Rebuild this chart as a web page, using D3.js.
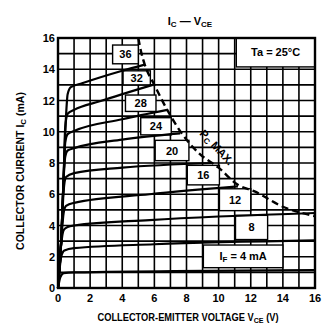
<!DOCTYPE html>
<html><head><meta charset="utf-8">
<script src="https://cdn.jsdelivr.net/npm/d3@7"></script>
<style>
html,body{margin:0;padding:0;background:#fff;}
text{font-family:"Liberation Sans Narrow","Arial Narrow","Liberation Sans",sans-serif;font-weight:bold;fill:#000;}
</style></head>
<body>
<svg id="c" width="327" height="328"></svg>
<script>
// ---- data ----
const xTicks = [0,2,4,6,8,10,12,14,16];
const yTicks = [0,2,4,6,8,10,12,14,16];
const curveIF = [36,32,28,24,20,16,12,8,4];
const curve36 = [[0,0],[0.2,3],[0.38,8],[0.5,11],[0.6,12.4],[0.8,12.85],[1.5,13.1],[4,13.9],[5.4,14.3]];
const curve32 = [[0,0],[0.2,3],[0.35,7],[0.45,10.3],[0.6,11.15],[1,11.4],[2.6,11.95],[5.9,13.0]];
const curve28 = [[0,0],[0.2,3],[0.35,7],[0.45,9.3],[0.6,9.85],[1,10.05],[4,10.8],[6.8,11.4]];
const curve24 = [[0,0],[0.2,3],[0.35,7],[0.45,8.4],[0.6,8.8],[1,8.95],[4,9.5],[7.6,9.9]];
const curve20 = [[0,0],[0.2,3],[0.35,6.2],[0.5,7.1],[1,7.35],[4,7.7],[9.6,8.0]];
const curve16 = [[0,0],[0.2,3],[0.35,4.8],[0.5,5.25],[1,5.45],[5.7,6.0],[11.2,6.5]];
const curve12 = [[0,0],[0.2,2.8],[0.35,3.7],[0.6,3.9],[1,4.0],[5.7,4.35],[16,4.8]];
const curve8  = [[0,0],[0.2,2.0],[0.4,2.4],[1,2.55],[6,2.8],[16,3.05]];
const curve4  = [[0,0],[0.15,0.7],[0.35,0.95],[1,1.0],[16,1.15]];
const pcMax = [[5.0,16],[5.2,15.0],[5.4,14.3],[6.0,13.0],[6.8,11.4],[7.7,9.9],[8.8,8.6],[10,7.7],[11.2,6.6],[12.2,6.2],[14,5.2],[16,4.6]];
const boxLabels = ["36","32","28","24","20","16","12","8","IF"];
const boxX0 = [3.4,4.05,4.2,5.15,6.05,8.05,10.05,11.05,9.05];
const boxX1 = [5.0,5.75,6.1,7.05,8.15,10.05,12.0,13.05,14.0];
const boxY0 = [14.35,13.0,11.3,9.8,8.15,6.6,4.95,3.1,1.3];
const boxY1 = [15.55,13.9,12.35,10.9,9.45,7.85,6.35,4.65,2.75];
const curves = [curve36,curve32,curve28,curve24,curve20,curve16,curve12,curve8,curve4];

// ---- layout ----
const svg = d3.select("#c");
const L=58,R=315,T=38,B=288;
const x = d3.scaleLinear().domain([0,16]).range([L,R]);
const y = d3.scaleLinear().domain([0,16]).range([B,T]);

const grid = d3.range(0,17);
svg.append("g").selectAll("line").data(grid).join("line")
  .attr("x1",d=>x(d)).attr("x2",d=>x(d)).attr("y1",T).attr("y2",B)
  .attr("stroke","#000").attr("stroke-width",1.6);
svg.append("g").selectAll("line").data(grid).join("line")
  .attr("y1",d=>y(d)).attr("y2",d=>y(d)).attr("x1",L).attr("x2",R)
  .attr("stroke","#000").attr("stroke-width",1.6);

const bx = svg.append("g");
boxLabels.forEach((t,i)=>{
  bx.append("rect").attr("x",x(boxX0[i])).attr("y",y(boxY1[i]))
    .attr("width",x(boxX1[i])-x(boxX0[i])).attr("height",y(boxY0[i])-y(boxY1[i]))
    .attr("fill","#fff").attr("stroke","#000").attr("stroke-width",1.4);
  const cx=(x(boxX0[i])+x(boxX1[i]))/2, cy=(y(boxY0[i])+y(boxY1[i]))/2;
  const tx = bx.append("text").attr("x",cx).attr("y",cy+4).attr("text-anchor","middle").attr("font-size",11);
  if(t==="IF"){
    tx.append("tspan").text("I");
    tx.append("tspan").attr("font-size",8).attr("dy",2).text("F");
    tx.append("tspan").attr("dy",-2).text(" = 4 mA");
  } else tx.text(t);
});
svg.append("rect").attr("x",x(11.1)).attr("y",y(16)).attr("width",x(16)-x(11.1)).attr("height",y(14.15)-y(16))
  .attr("fill","#fff").attr("stroke","#000").attr("stroke-width",1.4);
svg.append("text").attr("x",(x(11.1)+x(16))/2).attr("y",(y(14.15)+y(16))/2+4).attr("text-anchor","middle")
  .attr("font-size",11).text("Ta = 25°C");

svg.append("rect").attr("x",L).attr("y",T).attr("width",R-L).attr("height",B-T)
  .attr("fill","none").attr("stroke","#000").attr("stroke-width",2.4);

const line = d3.line().x(d=>x(d[0])).y(d=>y(d[1])).curve(d3.curveMonotoneX);
svg.append("g").selectAll("path").data(curves).join("path")
  .attr("d",line).attr("fill","none").attr("stroke","#000").attr("stroke-width",2.2);

svg.append("path").datum(pcMax).attr("d",line)
  .attr("fill","none").attr("stroke","#000").attr("stroke-width",2.4).attr("stroke-dasharray","7,4");
const pct = svg.append("text").attr("transform","translate(214,150) rotate(47)").attr("text-anchor","middle").attr("font-size",11);
pct.append("tspan").text("P");
pct.append("tspan").attr("font-size",8).attr("dy",2).text("C");
pct.append("tspan").attr("dy",-2).text(" MAX.");

svg.append("g").selectAll("text").data(xTicks).join("text")
  .attr("x",d=>x(d)).attr("y",302).attr("text-anchor","middle").attr("font-size",11).text(d=>d);
svg.append("g").selectAll("text").data(yTicks).join("text")
  .attr("x",55).attr("y",d=>y(d)+4).attr("text-anchor","end").attr("font-size",11).text(d=>d);

const xt = svg.append("text").attr("transform","translate(188,321) scale(0.885,1)").attr("text-anchor","middle").attr("font-size",10.5);
xt.append("tspan").text("COLLECTOR-EMITTER VOLTAGE V");
xt.append("tspan").attr("font-size",8).attr("dy",2).text("CE");
xt.append("tspan").attr("dy",-2).text(" (V)");
const yt = svg.append("text").attr("transform","translate(24,171) rotate(-90)").attr("text-anchor","middle").attr("font-size",10.5);
yt.append("tspan").text("COLLECTOR CURRENT I");
yt.append("tspan").attr("font-size",8).attr("dy",2).text("C");
yt.append("tspan").attr("dy",-2).text(" (mA)");
const tt = svg.append("text").attr("x",190).attr("y",25).attr("text-anchor","middle").attr("font-size",11);
tt.append("tspan").text("I");
tt.append("tspan").attr("font-size",8).attr("dy",2).text("C");
tt.append("tspan").attr("dy",-2).text(" — V");
tt.append("tspan").attr("font-size",8).attr("dy",2).text("CE");
</script>
</body></html>
